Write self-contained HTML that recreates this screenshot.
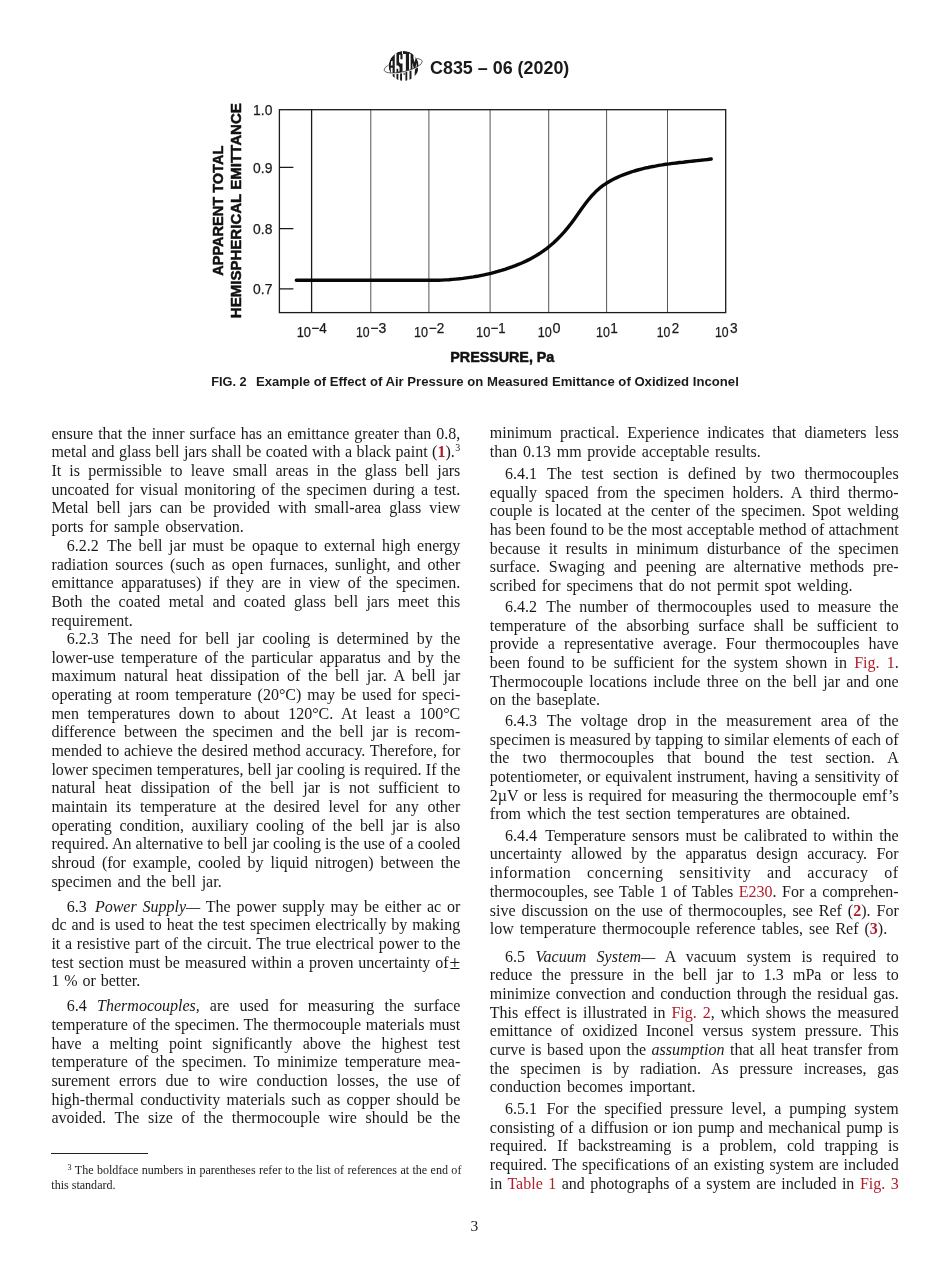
<!DOCTYPE html>
<html><head><meta charset="utf-8"><title>C835</title><style>
html,body{margin:0;padding:0;background:#fff}
body{width:950px;height:1272px;position:relative;overflow:hidden;font-family:"Liberation Serif",serif;color:#1a1a1a}
.l{position:absolute;white-space:nowrap;font-size:16.0px;line-height:20px;height:20px}
#pg{position:absolute;left:0;top:0;width:950px;height:1272px;will-change:transform}
.r{color:#b01c2a}
.pm{font-size:19.5px;line-height:0;margin-left:1px;position:relative;top:0.5px}
sup{font-size:10px;vertical-align:baseline;position:relative;top:-6px;line-height:0;margin-left:0.6px}
.f{position:absolute;white-space:nowrap;font-size:12.06px;line-height:14px;height:14px}
.f sup{font-size:8px;top:-4px}
.h{position:absolute;font-family:"Liberation Sans",sans-serif;font-weight:bold;white-space:nowrap;color:#1a1a1a}
</style></head><body><div id=pg>
<svg width="950" height="410" viewBox="0 0 950 410" style="position:absolute;left:0;top:0" font-family="Liberation Sans, sans-serif">
<!-- header -->
<g id="logo">
<defs>
<clipPath id="cT"><path d="M384.13 70.21A19.6 6.1 -13.3 0 0 422.27 61.19L422.27 40L384.13 40Z"/></clipPath>
<clipPath id="cB"><path d="M384.13 71.31A19.6 6.1 -13.3 0 0 422.27 62.29L422.27 95L384.13 95Z"/></clipPath>
<clipPath id="cG"><circle cx="403.7" cy="66.0" r="15.0"/></clipPath>
<clipPath id="cR"><rect x="413.21" y="55" width="30" height="30"/></clipPath>
<clipPath id="cO"><path clip-rule="evenodd" d="M370 40H440V95H370ZM388.7 66.0A15.0 15.0 0 1 0 418.7 66.0A15.0 15.0 0 1 0 388.7 66.0Z"/></clipPath>
</defs>
<g clip-path="url(#cG)">
<g clip-path="url(#cT)"><circle cx="403.7" cy="66.0" r="15.0" fill="#1c1c1c"/><path d="M394.74 50.73L396.47 50.73L396.47 74.90L394.74 74.90ZM391.11 61.30L392.58 60.65L392.58 65.62L390.77 65.62ZM390.68 67.77L392.58 67.77L392.58 74.90L390.98 74.90ZM399.06 54.83L400.44 54.83L400.44 59.14L402.51 59.14L402.51 63.46L400.26 63.46L399.06 61.95ZM396.29 65.62L398.11 65.62L399.57 67.34L399.57 71.44L398.19 71.44L398.19 68.64L396.29 68.64ZM402.51 53.96L405.87 53.96L405.87 74.90L402.51 74.90ZM408.98 53.83L410.62 53.83L410.62 74.90L408.98 74.90ZM401.99 50.73L402.94 50.73L402.94 53.96L401.99 53.96ZM412.43 62.38L413.82 68.42L413.82 74.90L412.43 74.90ZM415.28 68.42L416.66 62.38L416.66 74.90L415.28 74.90ZM413.47 52.88L415.63 52.88L415.63 58.28L414.55 62.60L413.47 58.28Z" fill="#fff"/></g>
<g clip-path="url(#cB)"><path d="M392.58 73.17L394.57 73.17L394.57 78.35L392.58 78.35ZM396.47 73.17L398.36 73.17L398.36 81.80L396.47 81.80ZM400.09 73.17L401.99 73.17L401.99 81.80L400.09 81.80ZM403.63 72.31L404.58 72.31L404.58 74.90L403.63 74.90ZM405.44 71.44L407.26 71.44L407.26 81.80L405.44 81.80ZM409.50 70.58L411.49 70.58L411.49 81.80L409.50 81.80ZM414.72 67.99L417.96 67.13L417.96 76.62L414.72 76.62Z" fill="#1c1c1c"/><g clip-path="url(#cR)"><circle cx="401.5" cy="65.0" r="14.4" fill="#fff"/></g></g>
</g>
<path d="M384.13 70.21A19.6 6.1 -13.3 0 1 422.27 61.19" fill="none" stroke="#333" stroke-width="0.75" clip-path="url(#cO)"/>
<path d="M384.13 70.21A19.6 6.1 -13.3 0 0 422.27 61.19" fill="none" stroke="#333" stroke-width="0.75"/>
</g>
<text x="430" y="74" font-size="17.7" font-weight="bold" fill="#1a1a1a" textLength="139.3" lengthAdjust="spacingAndGlyphs">C835 – 06 (2020)</text>

<!-- chart -->
<g stroke="#555" stroke-width="1" fill="none">
<path d="M370.8 109.7V312.6M428.9 109.7V312.6M490.1 109.7V312.6M548.7 109.7V312.6M606.6 109.7V312.6M667.5 109.7V312.6"/>
</g>
<g stroke="#1a1a1a" stroke-width="1.3" fill="none">
<path d="M311.6 109.7V312.6"/>
<rect x="279.4" y="109.7" width="446.3" height="202.9"/>
<path d="M279.4 167.3H293.4M279.4 228.7H293.4M279.4 288.9H293.4"/>
</g>
<path id="curve" d="M296.3 280.2L400.0 280.1L403.5 280.2L407.0 280.3L410.5 280.3L414.0 280.3L417.5 280.3L421.0 280.3L424.5 280.3L428.0 280.3L431.5 280.3L435.0 280.3L438.5 280.3L442.0 280.1L445.5 279.9L449.0 279.7L452.4 279.4L455.9 279.1L459.4 278.8L462.9 278.4L466.4 277.9L469.9 277.4L473.4 276.9L476.9 276.3L480.4 275.6L483.9 274.9L487.4 274.1L490.9 273.3L494.4 272.4L497.9 271.4L501.4 270.4L504.9 269.3L508.4 268.1L511.9 266.9L515.4 265.6L518.9 264.2L522.4 262.7L525.9 261.1L529.4 259.4L532.9 257.5L536.4 255.5L539.9 253.3L543.4 250.9L546.9 248.3L550.4 245.5L553.9 242.5L557.3 239.2L560.8 235.6L564.3 231.8L567.8 227.6L571.3 223.2L574.8 218.4L578.3 213.5L581.8 208.5L585.3 203.8L588.8 199.3L592.3 195.2L595.8 191.6L599.3 188.4L602.8 185.7L606.3 183.3L609.8 181.2L613.3 179.3L616.8 177.6L620.3 176.0L623.8 174.6L627.3 173.3L630.8 172.1L634.3 171.0L637.8 170.0L641.3 169.1L644.8 168.2L648.3 167.5L651.8 166.7L655.3 166.1L658.8 165.4L662.2 164.9L665.7 164.3L669.2 163.9L672.7 163.4L676.2 163.0L679.7 162.5L683.2 162.2L686.7 161.8L690.2 161.4L693.7 161.0L697.2 160.6L700.7 160.3L704.2 159.9L707.7 159.5L711.2 159.0" fill="none" stroke="#080808" stroke-width="3.4" stroke-linecap="round" stroke-linejoin="round"/>
<g fill="#1a1a1a" stroke="#1a1a1a" stroke-width="0.25" font-size="15.3">
<text x="253.1" y="115.2" textLength="19.3" lengthAdjust="spacingAndGlyphs">1.0</text>
<text x="253.1" y="172.8" textLength="19.3" lengthAdjust="spacingAndGlyphs">0.9</text>
<text x="253.1" y="234.2" textLength="19.3" lengthAdjust="spacingAndGlyphs">0.8</text>
<text x="253.1" y="294.4" textLength="19.3" lengthAdjust="spacingAndGlyphs">0.7</text>
</g>
<g fill="#1a1a1a" stroke="#1a1a1a" stroke-width="0.25" font-size="14.2">
<text x="296.7" y="337.4" textLength="14.3" lengthAdjust="spacingAndGlyphs">10</text><text x="311.3" y="332.7" textLength="15.4" lengthAdjust="spacingAndGlyphs">−4</text>
<text x="356" y="337.4" textLength="13.6" lengthAdjust="spacingAndGlyphs">10</text><text x="370.3" y="332.7" textLength="16" lengthAdjust="spacingAndGlyphs">−3</text>
<text x="414.1" y="337.4" textLength="14" lengthAdjust="spacingAndGlyphs">10</text><text x="428.8" y="332.7" textLength="15.4" lengthAdjust="spacingAndGlyphs">−2</text>
<text x="476" y="337.4" textLength="14.3" lengthAdjust="spacingAndGlyphs">10</text><text x="490.6" y="332.7" textLength="15" lengthAdjust="spacingAndGlyphs">−1</text>
<text x="537.8" y="337.4" textLength="14" lengthAdjust="spacingAndGlyphs">10</text><text x="552.6" y="332.7" textLength="8" lengthAdjust="spacingAndGlyphs">0</text>
<text x="596" y="337.4" textLength="13.8" lengthAdjust="spacingAndGlyphs">10</text><text x="610.2" y="332.7" textLength="7.6" lengthAdjust="spacingAndGlyphs">1</text>
<text x="656.8" y="337.4" textLength="13.6" lengthAdjust="spacingAndGlyphs">10</text><text x="671.7" y="332.7" textLength="7.4" lengthAdjust="spacingAndGlyphs">2</text>
<text x="715" y="337.4" textLength="13.6" lengthAdjust="spacingAndGlyphs">10</text><text x="730" y="332.7" textLength="7.6" lengthAdjust="spacingAndGlyphs">3</text>
</g>
<g fill="#111" stroke="#111" stroke-width="0.5" stroke-linejoin="round" font-weight="bold">
<text x="450.3" y="361.5" font-size="14.4" textLength="104" lengthAdjust="spacingAndGlyphs">PRESSURE, Pa</text>
<text transform="translate(223.1,275.7) rotate(-90)" font-size="15" textLength="130" lengthAdjust="spacingAndGlyphs">APPARENT TOTAL</text>
<text transform="translate(241,318.2) rotate(-90)" font-size="15" textLength="215" lengthAdjust="spacingAndGlyphs">HEMISPHERICAL EMITTANCE</text>
</g>
<!-- caption -->
<g fill="#1a1a1a" font-weight="bold" font-size="13.1">
<text x="211.2" y="386.3" textLength="35.4" lengthAdjust="spacingAndGlyphs">FIG. 2</text>
<text x="256" y="386.3" textLength="482.8" lengthAdjust="spacingAndGlyphs">Example of Effect of Air Pressure on Measured Emittance of Oxidized Inconel</text>
</g>
</svg>
<div style="position:absolute;left:51.3px;top:1152.7px;width:97px;height:1px;background:#222"></div>
<div class=f style="left:67px;top:1163.2px;word-spacing:0.38px"><sup>3</sup> The boldface numbers in parentheses refer to the list of references at the end of</div>
<div class=f style="left:51.3px;top:1177.8px">this standard.</div>
<div class=l style="left:470.6px;top:1216.4px;font-size:15.5px">3</div>

<div class=l id="k0-0" style="left:51.40px;top:424px;word-spacing:0.997px;">ensure that the inner surface has an emittance greater than 0.8,</div>
<div class=l id="k0-1" style="left:51.40px;top:442px;word-spacing:0.472px;">metal and glass bell jars shall be coated with a black paint (<b class=r>1</b>).<sup>3</sup></div>
<div class=l id="k0-2" style="left:51.40px;top:461px;word-spacing:4.172px;">It is permissible to leave small areas in the glass bell jars</div>
<div class=l id="k0-3" style="left:51.40px;top:480px;word-spacing:2.087px;">uncoated for visual monitoring of the specimen during a test.</div>
<div class=l id="k0-4" style="left:51.40px;top:498px;word-spacing:4.016px;">Metal bell jars can be provided with small-area glass view</div>
<div class=l id="k0-5" style="left:51.40px;top:517px;word-spacing:1.930px;">ports for sample observation.</div>
<div class=l id="k0-6" style="left:66.70px;top:536px;word-spacing:2.603px;"><span style="margin-right:2.05px">6.2.2</span> The bell jar must be opaque to external high energy</div>
<div class=l id="k0-7" style="left:51.40px;top:555px;word-spacing:2.905px;">radiation sources (such as open furnaces, sunlight, and other</div>
<div class=l id="k0-8" style="left:51.40px;top:573px;word-spacing:3.674px;">emittance apparatuses) if they are in view of the specimen.</div>
<div class=l id="k0-9" style="left:51.40px;top:592px;word-spacing:4.280px;">Both the coated metal and coated glass bell jars meet this</div>
<div class=l id="k0-10" style="left:51.40px;top:611px;word-spacing:1.800px;">requirement.</div>
<div class=l id="k0-11" style="left:66.70px;top:629px;word-spacing:3.975px;"><span style="margin-right:1.36px">6.2.3</span> The need for bell jar cooling is determined by the</div>
<div class=l id="k0-12" style="left:51.40px;top:648px;word-spacing:2.952px;">lower-use temperature of the particular apparatus and by the</div>
<div class=l id="k0-13" style="left:51.40px;top:666px;word-spacing:3.610px;">maximum natural heat dissipation of the bell jar. A bell jar</div>
<div class=l id="k0-14" style="left:51.40px;top:685px;word-spacing:2.023px;">operating at room temperature (20°C) may be used for speci-</div>
<div class=l id="k0-15" style="left:51.40px;top:704px;word-spacing:4.611px;">men temperatures down to about 120°C. At least a 100°C</div>
<div class=l id="k0-16" style="left:51.40px;top:722px;word-spacing:3.955px;">difference between the specimen and the bell jar is recom-</div>
<div class=l id="k0-17" style="left:51.40px;top:741px;word-spacing:0.748px;">mended to achieve the desired method accuracy. Therefore, for</div>
<div class=l id="k0-18" style="left:51.40px;top:760px;word-spacing:0.266px;">lower specimen temperatures, bell jar cooling is required. If the</div>
<div class=l id="k0-19" style="left:51.40px;top:778px;word-spacing:5.107px;">natural heat dissipation of the bell jar is not sufficient to</div>
<div class=l id="k0-20" style="left:51.40px;top:797px;word-spacing:4.709px;">maintain its temperature at the desired level for any other</div>
<div class=l id="k0-21" style="left:51.40px;top:816px;word-spacing:3.667px;">operating condition, auxiliary cooling of the bell jar is also</div>
<div class=l id="k0-22" style="left:51.40px;top:834px;word-spacing:0.124px;">required. An alternative to bell jar cooling is the use of a cooled</div>
<div class=l id="k0-23" style="left:51.40px;top:853px;word-spacing:2.961px;">shroud (for example, cooled by liquid nitrogen) between the</div>
<div class=l id="k0-24" style="left:51.40px;top:872px;word-spacing:1.800px;">specimen and the bell jar.</div>
<div class=l id="k0-25" style="left:66.70px;top:897px;word-spacing:1.776px;"><span style="margin-right:2.46px">6.3</span> <i>Power Supply—</i> The power supply may be either ac or</div>
<div class=l id="k0-26" style="left:51.40px;top:915px;word-spacing:0.942px;">dc and is used to heat the test specimen electrically by making</div>
<div class=l id="k0-27" style="left:51.40px;top:934px;word-spacing:0.744px;">it a resistive part of the circuit. The true electrical power to the</div>
<div class=l id="k0-28" style="left:51.40px;top:953px;word-spacing:0.936px;">test section must be measured within a proven uncertainty of<span class=pm>±</span></div>
<div class=l id="k0-29" style="left:51.40px;top:971px;word-spacing:0.900px;">1 % or better.</div>
<div class=l id="k0-30" style="left:66.70px;top:996px;word-spacing:6.108px;"><span style="margin-right:0.30px">6.4</span> <i>Thermocouples,</i> are used for measuring the surface</div>
<div class=l id="k0-31" style="left:51.40px;top:1015px;word-spacing:0.699px;">temperature of the specimen. The thermocouple materials must</div>
<div class=l id="k0-32" style="left:51.40px;top:1034px;word-spacing:6.457px;">have a melting point significantly above the highest test</div>
<div class=l id="k0-33" style="left:51.40px;top:1052px;word-spacing:3.148px;">temperature of the specimen. To minimize temperature mea-</div>
<div class=l id="k0-34" style="left:51.40px;top:1071px;word-spacing:5.049px;">surement errors due to wire conduction losses, the use of</div>
<div class=l id="k0-35" style="left:51.40px;top:1090px;word-spacing:2.239px;">high-thermal conductivity materials such as copper should be</div>
<div class=l id="k0-36" style="left:51.40px;top:1108px;word-spacing:4.690px;">avoided. The size of the thermocouple wire should be the</div>
<div class=l id="k1-0" style="left:489.80px;top:423px;word-spacing:4.098px;">minimum practical. Experience indicates that diameters less</div>
<div class=l id="k1-1" style="left:489.80px;top:442px;word-spacing:1.680px;">than 0.13 mm provide acceptable results.</div>
<div class=l id="k1-2" style="left:505.10px;top:464px;word-spacing:5.505px;"><span style="margin-right:0.60px">6.4.1</span> The test section is defined by two thermocouples</div>
<div class=l id="k1-3" style="left:489.80px;top:483px;word-spacing:4.181px;">equally spaced from the specimen holders. A third thermo-</div>
<div class=l id="k1-4" style="left:489.80px;top:501px;word-spacing:2.103px;">couple is located at the center of the specimen. Spot welding</div>
<div class=l id="k1-5" style="left:489.80px;top:520px;word-spacing:0.283px;">has been found to be the most acceptable method of attachment</div>
<div class=l id="k1-6" style="left:489.80px;top:539px;word-spacing:4.236px;">because it results in minimum disturbance of the specimen</div>
<div class=l id="k1-7" style="left:489.80px;top:557px;word-spacing:4.848px;">surface. Swaging and peening are alternative methods pre-</div>
<div class=l id="k1-8" style="left:489.80px;top:576px;word-spacing:1.860px;">scribed for specimens that do not permit spot welding.</div>
<div class=l id="k1-9" style="left:505.10px;top:597px;word-spacing:4.086px;"><span style="margin-right:1.31px">6.4.2</span> The number of thermocouples used to measure the</div>
<div class=l id="k1-10" style="left:489.80px;top:616px;word-spacing:5.054px;">temperature of the absorbing surface shall be sufficient to</div>
<div class=l id="k1-11" style="left:489.80px;top:634px;word-spacing:5.140px;">provide a representative average. Four thermocouples have</div>
<div class=l id="k1-12" style="left:489.80px;top:653px;word-spacing:3.224px;">been found to be sufficient for the system shown in <span class=r>Fig. 1</span>.</div>
<div class=l id="k1-13" style="left:489.80px;top:672px;word-spacing:2.239px;">Thermocouple locations include three on the bell jar and one</div>
<div class=l id="k1-14" style="left:489.80px;top:690px;word-spacing:1.600px;">on the baseplate.</div>
<div class=l id="k1-15" style="left:505.10px;top:711px;word-spacing:5.229px;"><span style="margin-right:0.74px">6.4.3</span> The voltage drop in the measurement area of the</div>
<div class=l id="k1-16" style="left:489.80px;top:730px;word-spacing:0.279px;">specimen is measured by tapping to similar elements of each of</div>
<div class=l id="k1-17" style="left:489.80px;top:748px;word-spacing:9.175px;">the two thermocouples that bound the test section. A</div>
<div class=l id="k1-18" style="left:489.80px;top:767px;word-spacing:0.930px;">potentiometer, or equivalent instrument, having a sensitivity of</div>
<div class=l id="k1-19" style="left:489.80px;top:786px;word-spacing:1.540px;">2µV or less is required for measuring the thermocouple emf’s</div>
<div class=l id="k1-20" style="left:489.80px;top:804px;word-spacing:1.980px;">from which the test section temperatures are obtained.</div>
<div class=l id="k1-21" style="left:505.10px;top:826px;word-spacing:2.220px;"><span style="margin-right:2.24px">6.4.4</span> Temperature sensors must be calibrated to within the</div>
<div class=l id="k1-22" style="left:489.80px;top:844px;word-spacing:5.377px;">uncertainty allowed by the apparatus design accuracy. For</div>
<div class=l id="k1-23" style="left:489.80px;top:863px;word-spacing:11.146px;letter-spacing:0.550px;">information concerning sensitivity and accuracy of</div>
<div class=l id="k1-24" style="left:489.80px;top:882px;word-spacing:1.463px;">thermocouples, see Table 1 of Tables <span class=r>E230</span>. For a comprehen-</div>
<div class=l id="k1-25" style="left:489.80px;top:901px;word-spacing:1.964px;">sive discussion on the use of thermocouples, see Ref (<b class=r>2</b>). For</div>
<div class=l id="k1-26" style="left:489.80px;top:919px;word-spacing:2.000px;">low temperature thermocouple reference tables, see Ref (<b class=r>3</b>).</div>
<div class=l id="k1-27" style="left:505.10px;top:947px;word-spacing:6.351px;"><span style="margin-right:0.17px">6.5</span> <i>Vacuum System—</i> A vacuum system is required to</div>
<div class=l id="k1-28" style="left:489.80px;top:965px;word-spacing:5.157px;">reduce the pressure in the bell jar to 1.3 mPa or less to</div>
<div class=l id="k1-29" style="left:489.80px;top:984px;word-spacing:1.540px;">minimize convection and conduction through the residual gas.</div>
<div class=l id="k1-30" style="left:489.80px;top:1003px;word-spacing:1.992px;">This effect is illustrated in <span class=r>Fig. 2</span>, which shows the measured</div>
<div class=l id="k1-31" style="left:489.80px;top:1021px;word-spacing:4.502px;">emittance of oxidized Inconel versus system pressure. This</div>
<div class=l id="k1-32" style="left:489.80px;top:1040px;word-spacing:1.522px;">curve is based upon the <i>assumption</i> that all heat transfer from</div>
<div class=l id="k1-33" style="left:489.80px;top:1059px;word-spacing:6.902px;">the specimen is by radiation. As pressure increases, gas</div>
<div class=l id="k1-34" style="left:489.80px;top:1077px;word-spacing:2.200px;">conduction becomes important.</div>
<div class=l id="k1-35" style="left:505.10px;top:1099px;word-spacing:3.984px;"><span style="margin-right:1.36px">6.5.1</span> For the specified pressure level, a pumping system</div>
<div class=l id="k1-36" style="left:489.80px;top:1118px;word-spacing:1.281px;">consisting of a diffusion or ion pump and mechanical pump is</div>
<div class=l id="k1-37" style="left:489.80px;top:1136px;word-spacing:6.127px;">required. If backstreaming is a problem, cold trapping is</div>
<div class=l id="k1-38" style="left:489.80px;top:1155px;word-spacing:1.109px;">required. The specifications of an existing system are included</div>
<div class=l id="k1-39" style="left:489.80px;top:1174px;word-spacing:1.495px;">in <span class=r>Table 1</span> and photographs of a system are included in <span class=r>Fig. 3</span></div>
</div></body></html>
